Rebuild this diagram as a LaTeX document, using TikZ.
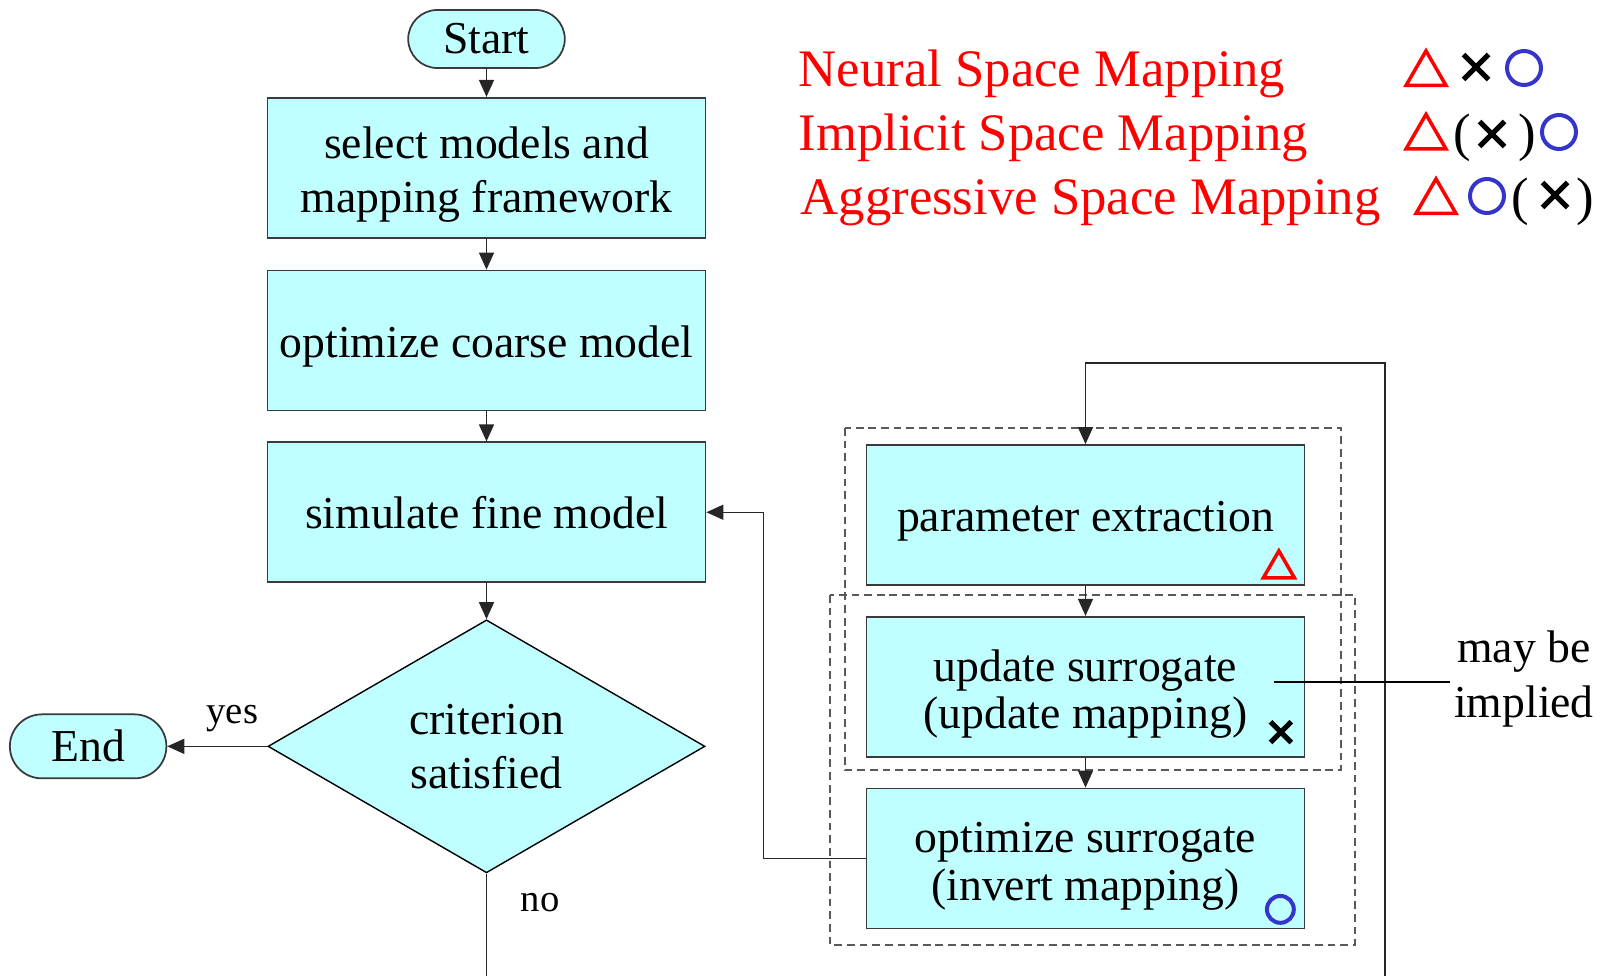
\documentclass[tikz,border=0pt]{standalone}
\usepackage{fontspec}
\setmainfont{Liberation Serif}
\usepackage{tikz}
\usetikzlibrary{positioning}
\usetikzlibrary{calc}
\usetikzlibrary{shapes.misc}
\usetikzlibrary{shapes.geometric}
\usetikzlibrary{arrows.meta}
\definecolor{flowcyan}{HTML}{BFFFFF}
\definecolor{flowedge}{HTML}{3A3A3A}
\definecolor{smblue}{HTML}{3535CC}
\definecolor{smred}{HTML}{FF0000}
\tikzset{
smtri/.pic={\draw[smred, line width=0.035cm, line join=miter] (-0.2,-0.18) -- (0.2,-0.18) -- (0,0.166) -- cycle;},
smcross/.pic={\draw[black, line width=0.05cm] (-0.125,-0.125) -- (0.125,0.125) (-0.125,0.125) -- (0.125,-0.125);},
smcirc/.pic={\draw[smblue, line width=0.04cm] (0,0) circle (0.17);},
}

\begin{document}
\begin{tikzpicture}[
>={Triangle[length=0.17cm,width=0.15cm]},
termnode/.style={rounded rectangle, draw=flowedge, fill=flowcyan, line width=0.5pt, minimum width=1.80cm, minimum height=0.58cm, font=\fontsize{13}{15.5}\selectfont},
boxbase/.style={rectangle, draw=flowedge, fill=flowcyan, line width=0.5pt, minimum width=4.38cm, minimum height=1.40cm, align=center,
	execute at end node={\rule[-3.5pt]{0pt}{3.5pt}}},
procnode/.style={boxbase, font=\fontsize{13}{15.5}\selectfont, execute at begin node={\rule{0pt}{13pt}}},
proctwo/.style={boxbase, font=\fontsize{13}{15.5}\selectfont, execute at begin node={\rule{0pt}{29pt}}},
stepnode/.style={boxbase, font=\fontsize{13}{13.6}\selectfont, execute at begin node={\rule{0pt}{13pt}}},
steptwo/.style={boxbase, font=\fontsize{13}{13.6}\selectfont, execute at begin node={\rule{0pt}{27.5pt}}},
decnode/.style={diamond, draw=black, fill=flowcyan, line width=0.4pt, minimum width=4.37cm, minimum height=2.53cm, inner sep=0pt, align=center, font=\fontsize{13}{15.5}\selectfont},
groupbox/.style={draw=black!65, dash pattern=on 2.2pt off 1.4pt, line width=0.4pt},
flowline/.style={draw=black!85, line width=0.4pt},
legnode/.style={text=smred, inner sep=0pt, anchor=base west, font=\fontsize{15}{18}\selectfont},
parnode/.style={inner sep=0pt, anchor=base, font=\fontsize{15}{18}\selectfont},
notenode/.style={inner sep=1pt, align=center, font=\fontsize{13}{15.5}\selectfont},
]
\fill[white] (0,0) rectangle (16.04,-9.76);
\useasboundingbox (0,0) rectangle (16.04,-9.76);

%Groups
\draw[groupbox] (8.45,-4.28) rectangle (13.41,-7.70);
\draw[groupbox] (8.30,-5.95) rectangle (13.55,-9.45);

%Nodes
\node[termnode]		(start)		at (4.865,-0.39)			{Start};
\node[proctwo]		(select)	[below=0.28cm of start]		{select models and\\mapping framework};
\node[procnode]		(coarse)	[below=0.31cm of select]	{optimize coarse model};
\node[procnode]		(fine)		[below=0.30cm of coarse]	{simulate fine model};
\node[decnode]		(crit)		[below=0.36cm of fine]		{criterion\\satisfied};
\node[termnode, minimum height=0.64cm]	(end)	[left=1.0cm of crit]	{End};

\node[stepnode]		(parext)	at (10.855,-5.15)			{parameter extraction};
\node[steptwo]		(updsur)	[below=0.30cm of parext]	{update surrogate\\(update mapping)};
\node[steptwo]		(optsur)	[below=0.30cm of updsur]	{optimize surrogate\\(invert mapping)};

\node[notenode]		(implied)	at (15.24,-6.79)			{may be\\implied};
\coordinate			(notestart)	at (12.74,-6.82);
\coordinate			(nobot)		at (crit.south |- 0,-9.76);
\coordinate			(loopbot)	at (13.85,-9.76);
\coordinate			(looptop)	at (13.85,-3.63);

%Legend
\node[legnode]	(nsm)	at (7.98,-0.87)		{Neural Space Mapping};
\node[legnode]	(ism)	at (7.98,-1.51)		{Implicit Space Mapping};
\node[legnode]	(asm)	at (8.00,-2.15)		{Aggressive Space Mapping};

\pic at (14.26,-0.675) {smtri};
\pic at (14.76,-0.67) {smcross};
\pic at (15.24,-0.68) {smcirc};

\pic at (14.26,-1.31) {smtri};
\node[parnode]	(isml)	at (14.62,-1.51)	{(};
\pic at (14.92,-1.34) {smcross};
\node[parnode]	(ismr)	at (15.27,-1.51)	{)};
\pic at (15.59,-1.32) {smcirc};

\pic at (14.36,-1.955) {smtri};
\pic at (14.87,-1.96) {smcirc};
\node[parnode]	(asml)	at (15.20,-2.15)	{(};
\pic at (15.55,-1.95) {smcross};
\node[parnode]	(asmr)	at (15.85,-2.15)	{)};

\pic[scale=0.78] at ($(parext.south east)+(-0.265,0.22)$) {smtri};
\pic[scale=0.83] at ($(updsur.south east)+(-0.245,0.255)$) {smcross};
\pic[scale=0.79] at ($(optsur.south east)+(-0.25,0.20)$) {smcirc};

%Lines
\draw[flowline,->] (start.south) -- (select.north);
\draw[flowline,->] (select.south) -- (coarse.north);
\draw[flowline,->] (coarse.south) -- (fine.north);
\draw[flowline,->] (fine.south) -- (crit.north);
\draw[flowline,->] (crit.west) -- node[pos=0.35, above=0.5pt, font=\fontsize{11}{13}\selectfont] {yes} (end.east);
\draw[flowline] (crit.south) -- node[pos=0.28, right=0.22cm, font=\fontsize{11}{13}\selectfont] {no} (nobot);

\draw[flowline,->] (parext.south) -- (updsur.north);
\draw[flowline,->] (updsur.south) -- (optsur.north);
\draw[flowline,->] (optsur.west) -- ++(-1.02,0) |- (fine.east);
\draw[flowline,->] (loopbot) -- (looptop) -| (parext.north);

\draw[black, line width=0.5pt] (notestart) -- (notestart -| implied.west);
\end{tikzpicture}
\end{document}
